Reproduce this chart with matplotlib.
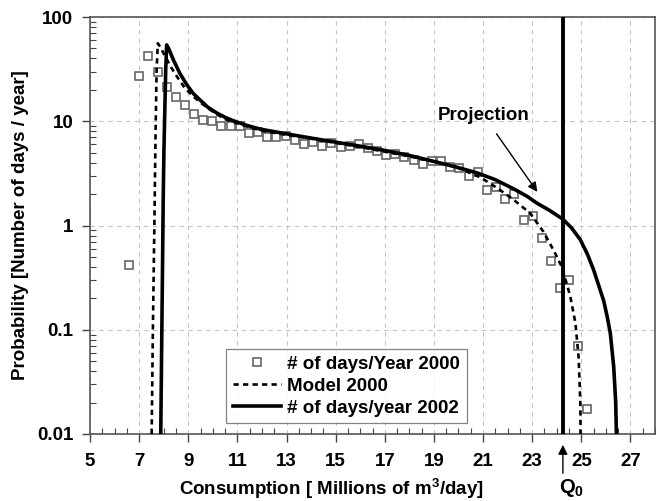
import matplotlib
matplotlib.use("Agg")
import matplotlib.pyplot as plt
from matplotlib.ticker import MultipleLocator, LogLocator, NullFormatter

plt.rcParams['font.family'] = ['Liberation Sans', 'DejaVu Sans']
plt.rcParams['font.weight'] = 'bold'
plt.rcParams['mathtext.fontset'] = 'custom'
plt.rcParams['mathtext.rm'] = 'Liberation Sans:bold'
plt.rcParams['mathtext.it'] = 'Liberation Sans:bold'
plt.rcParams['mathtext.bf'] = 'Liberation Sans:bold'

FS = 13.5

# observed days per year, 2000 (open squares)
obs_x = [6.6, 7.0, 7.37, 7.75, 8.12, 8.49, 8.86, 9.24, 9.61, 9.98, 10.35,
         10.73, 11.10, 11.47, 11.84, 12.22, 12.59, 12.96, 13.33, 13.71, 14.08,
         14.45, 14.82, 15.2, 15.57, 15.94, 16.31, 16.69, 17.06, 17.43, 17.8,
         18.18, 18.55, 18.92, 19.29, 19.67, 20.04, 20.41, 20.78, 21.16, 21.53,
         21.9, 22.27, 22.65, 23.02, 23.39, 23.76, 24.14, 24.51, 24.88, 25.25]
obs_y = [0.42, 27, 42, 30, 21.4, 16.9, 14.3, 11.8, 10.3, 10.0, 9.05,
         9.05, 9.1, 7.75, 7.9, 7.0, 7.0, 7.15, 6.55, 6.05, 6.3,
         5.85, 6.2, 5.7, 5.85, 6.0, 5.5, 5.2, 4.7, 4.85, 4.5,
         4.27, 3.9, 4.2, 4.18, 3.65, 3.58, 2.98, 3.26, 2.2, 2.33,
         1.78, 2.0, 1.12, 1.22, 0.76, 0.46, 0.25, 0.30, 0.07, 0.0175]

# model 2000 (dashed)
model_x = [7.51, 7.56, 7.62, 7.67, 7.71, 7.76, 7.85, 8.06, 8.3, 8.53, 8.85,
           9.2, 9.55, 9.89, 10.2, 10.57, 11.38, 12.0, 13.0, 14.0, 15.0, 16.0,
           17.0, 18.0, 19.0, 20.0, 20.89, 21.56, 22.24, 22.92, 23.46, 23.87,
           24.21, 24.55, 24.76, 24.89, 24.96, 24.97]
model_y = [0.01, 0.1, 1.0, 8, 30, 56, 52, 42, 33, 27, 21,
           17.3, 14.8, 12.9, 11.5, 10.3, 8.9, 8.1, 7.4, 6.8, 6.2, 5.65,
           5.1, 4.6, 4.1, 3.55, 2.9, 2.3, 1.77, 1.31, 0.87, 0.58,
           0.40, 0.21, 0.116, 0.055, 0.02, 0.01]

# days per year 2002 (solid, projection)
proj_x = [7.88, 7.96, 7.98, 8.01, 8.08, 8.12, 8.2, 8.39, 8.65, 8.94, 9.2,
          9.48, 9.8, 10.16, 10.5, 10.84, 11.4, 11.93, 12.96, 14.0, 15.0,
          16.13, 17.0, 18.0, 18.85, 19.8, 20.75, 21.5, 22.24, 22.8, 23.19,
          23.7, 24.25, 24.6, 24.96, 25.25, 25.5, 25.7, 25.91, 26.05, 26.18,
          26.32, 26.4, 26.43]
proj_y = [0.01, 0.6, 1.77, 5.3, 30, 54, 50, 39, 29, 22.4, 18.5,
          16, 13.6, 12, 10.9, 10.1, 9.1, 8.4, 7.6, 6.9, 6.3,
          5.7, 5.25, 4.7, 4.2, 3.7, 3.2, 2.75, 2.25, 1.9, 1.64,
          1.4, 1.15, 0.95, 0.73, 0.53, 0.376, 0.27, 0.19, 0.135, 0.093,
          0.044, 0.02, 0.01]

q0 = 24.25
ytick_vals = [0.01, 0.1, 1, 10, 100]
ytick_labels = ['0.01', '0.1', '1', '10', '100']
xtick_vals = [5, 7, 9, 11, 13, 15, 17, 19, 21, 23, 25, 27]

fig = plt.figure(figsize=(6.56, 5.01), dpi=100)
ax = fig.add_axes([90 / 656, 67 / 501, 565 / 656, 417 / 501])

ax.plot(obs_x, obs_y, ls='none', marker='s', ms=6, mfc='white', mec='#666666',
        mew=1.2, label='# of days/Year 2000', zorder=3)
ax.plot(model_x, model_y, color='black', lw=1.9, dashes=(2.0, 1.6),
        label='Model 2000', zorder=4)
ax.plot(proj_x, proj_y, color='black', lw=2.6, label='# of days/year 2002',
        zorder=5)
ax.axvline(q0, color='black', lw=2.8, zorder=6)

ax.set_yscale('log')
ax.set_xlim(5, 28)
ax.set_ylim(0.01, 100)
ax.set_yticks(ytick_vals)
ax.set_yticklabels(ytick_labels)
ax.yaxis.set_minor_locator(LogLocator(base=10, subs=range(2, 10)))
ax.yaxis.set_minor_formatter(NullFormatter())
ax.set_xticks(xtick_vals)
ax.xaxis.set_minor_locator(MultipleLocator(0.5))

ax.tick_params(which='major', direction='out', length=6, width=1, color='#444444',
               labelsize=FS)
ax.tick_params(axis='x', which='major', pad=8)
ax.tick_params(axis='y', which='major', pad=6)
ax.tick_params(which='minor', direction='in', length=4, width=0.8, color='#444444')
for lab in ax.get_xticklabels() + ax.get_yticklabels():
    lab.set_fontweight('bold')

for sp in ax.spines.values():
    sp.set_color('#555555')
    sp.set_linewidth(1.2)

ax.grid(True, which='major', color='#c4c4c4', ls=(0, (4, 4)), lw=0.8)
ax.set_axisbelow(True)

ax.set_xlabel('Consumption [ Millions of m$^3$/day]', fontsize=FS,
              fontweight='bold', x=0.427, labelpad=5)
ax.set_ylabel('Probability [Number of days / year]', fontsize=FS,
              fontweight='bold', labelpad=6)

leg = ax.legend(loc='lower left', bbox_to_anchor=(0.241, 0.026), borderaxespad=0,
                fontsize=FS, frameon=True, fancybox=False, handlelength=2.6,
                handletextpad=0.3, labelspacing=0.25, borderpad=0.35)
leg.get_frame().set_edgecolor('#666666')
leg.get_frame().set_linewidth(0.9)
for t in leg.get_texts():
    t.set_fontweight('bold')

ax.annotate('Projection', xy=(23.21, 2.1), xytext=(21.03, 11.3),
            fontsize=FS, fontweight='bold', ha='center', va='center',
            arrowprops=dict(arrowstyle='-|>', color='black', lw=1,
                            mutation_scale=14, shrinkA=6, shrinkB=0))

ax.annotate('', xy=(q0, -0.026), xycoords=('data', 'axes fraction'),
            xytext=(q0, -0.094), textcoords=('data', 'axes fraction'),
            arrowprops=dict(arrowstyle='-|>', color='black', lw=1,
                            mutation_scale=14, shrinkA=0, shrinkB=0),
            annotation_clip=False)
ax.text(24.6, -0.13, 'Q$_0$', transform=ax.get_xaxis_transform(),
        fontsize=FS + 1, fontweight='bold', ha='center', va='center')

fig.savefig('out.png', dpi=100)
